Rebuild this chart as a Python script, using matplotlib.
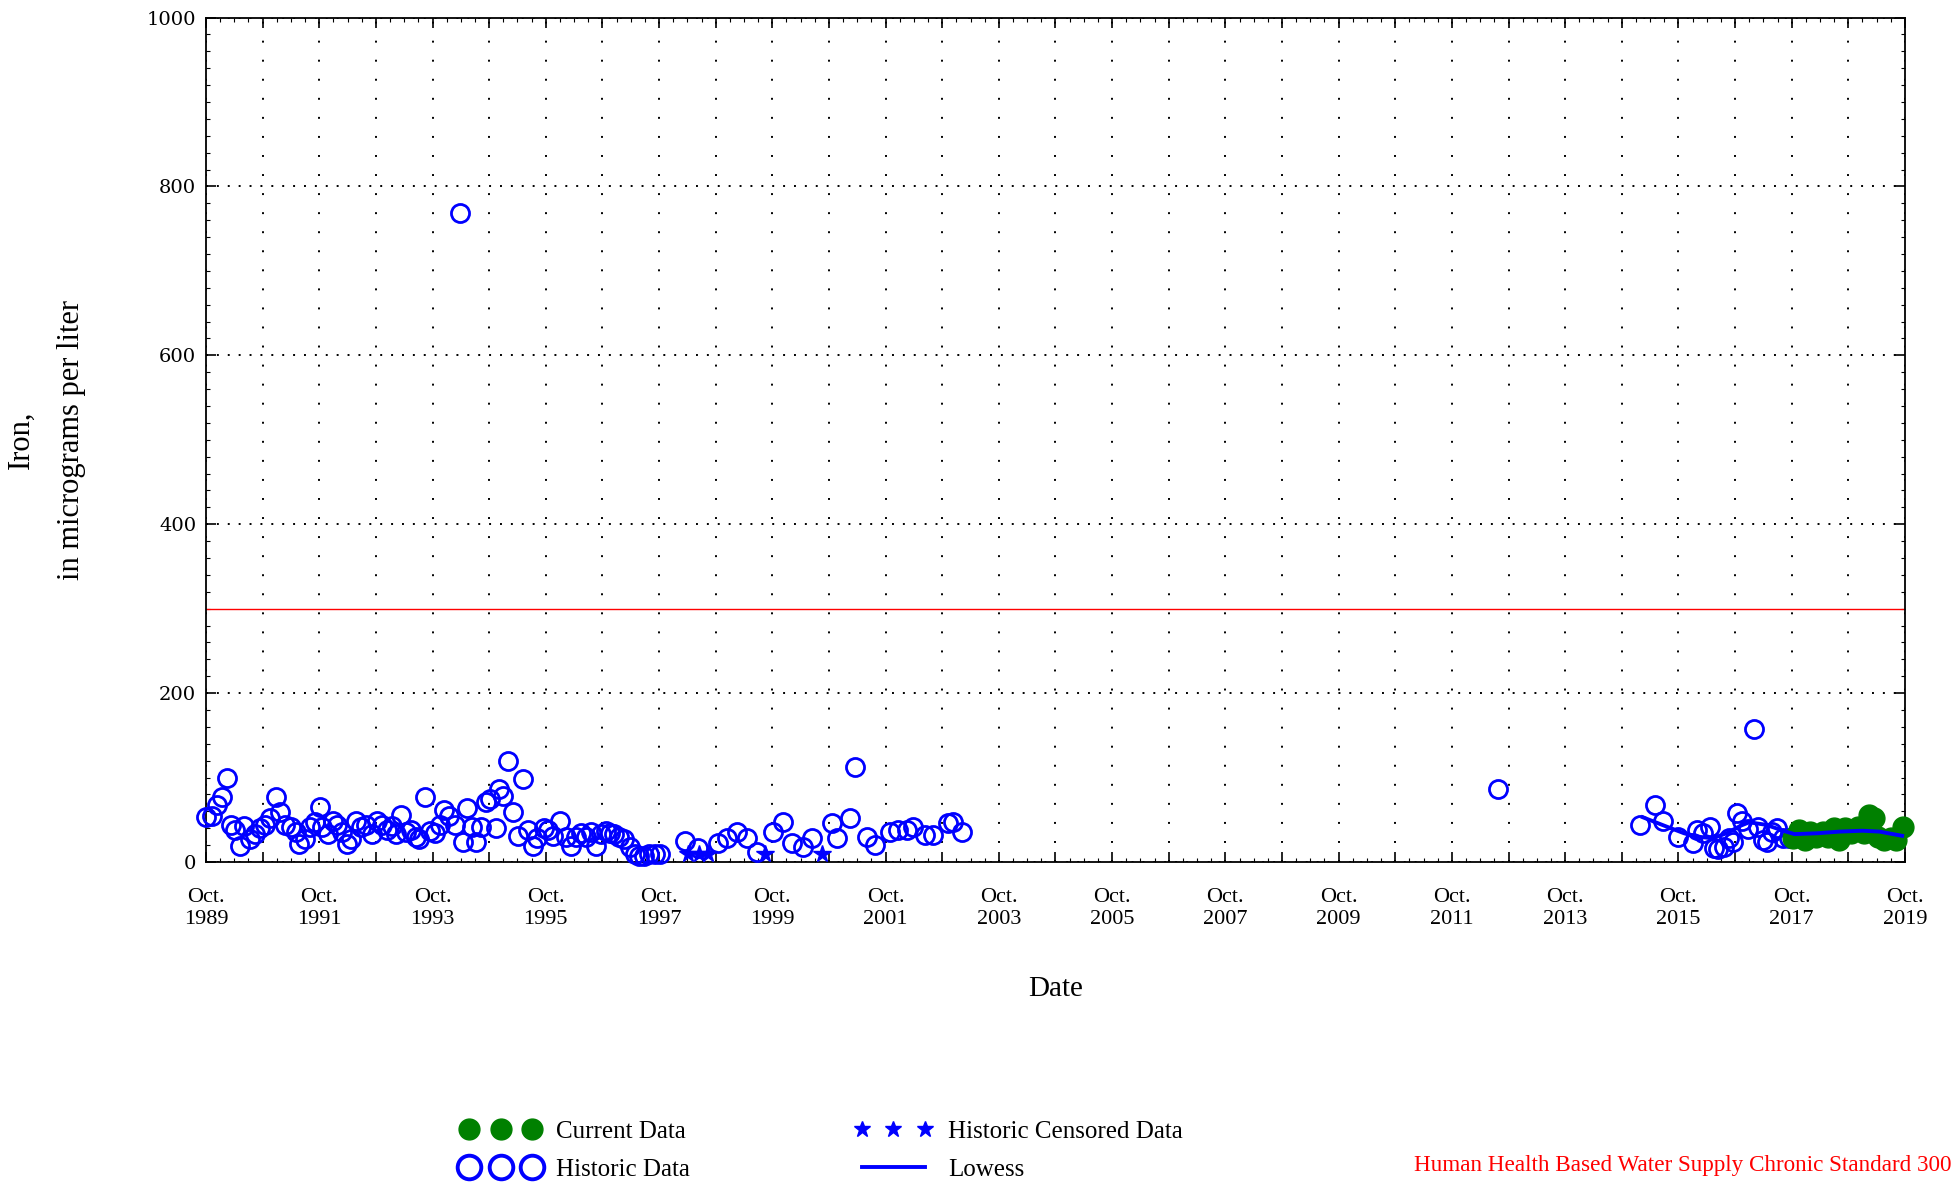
import numpy as np
import matplotlib
matplotlib.use("Agg")
import matplotlib.pyplot as plt
from matplotlib.lines import Line2D
from matplotlib.ticker import FixedLocator, MultipleLocator

plt.rcParams["font.family"] = ["Liberation Serif", "DejaVu Serif"]

# sample dates as decimal years, iron in micrograms per liter
historic_dates = [
    1989.75, 1989.86, 1989.95, 1990.04, 1990.12, 1990.19, 1990.26, 1990.35, 1990.43, 1990.52,
    1990.61, 1990.70, 1990.79, 1990.88, 1990.99, 1991.05, 1991.14, 1991.25, 1991.34, 1991.40,
    1991.49, 1991.58, 1991.67, 1991.76, 1991.80, 1991.91, 1992.00, 1992.07, 1992.15, 1992.24,
    1992.31, 1992.40, 1992.49, 1992.57, 1992.68, 1992.77, 1992.86, 1992.95, 1993.04, 1993.10,
    1993.19, 1993.28, 1993.37, 1993.46, 1993.52, 1993.61, 1993.70, 1993.79, 1993.88, 1993.96,
    1994.05, 1994.14, 1994.23, 1994.29, 1994.36, 1994.45, 1994.51, 1994.60, 1994.69, 1994.76,
    1994.87, 1994.93, 1995.00, 1995.09, 1995.18, 1995.26, 1995.35, 1995.44, 1995.53, 1995.60,
    1995.71, 1995.79, 1995.88, 1996.01, 1996.10, 1996.19, 1996.28, 1996.37, 1996.46, 1996.54,
    1996.63, 1996.72, 1996.81, 1996.88, 1996.96, 1997.05, 1997.14, 1997.23, 1997.32, 1997.40,
    1997.49, 1997.58, 1997.67, 1997.76, 1998.21, 1998.44, 1998.79, 1998.95, 1999.13, 1999.30,
    1999.48, 1999.76, 1999.94, 2000.10, 2000.29, 2000.45, 2000.80, 2000.89, 2001.12, 2001.21,
    2001.42, 2001.56, 2001.83, 2001.97, 2002.13, 2002.23, 2002.45, 2002.59, 2002.85, 2002.94,
    2003.10, 2012.56,
    2015.07, 2015.33, 2015.48, 2015.75, 2016.00, 2016.08, 2016.19, 2016.30, 2016.37, 2016.45,
    2016.55, 2016.64, 2016.72, 2016.79, 2016.87, 2016.97, 2017.08, 2017.16, 2017.24, 2017.32,
    2017.40, 2017.49, 2017.60, 2017.71,
]
historic_values = [
    53, 55, 67, 77, 99, 44, 38, 19, 43, 27,
    33, 40, 44, 52, 77, 59, 44, 41, 36, 21,
    27, 41, 47, 65, 41, 33, 49, 44, 36, 21,
    27, 49, 41, 44, 33, 49, 44, 38, 43, 33,
    56, 36, 38, 30, 27, 77, 37, 34, 44, 62,
    55, 44, 769, 24, 64, 41, 24, 41, 71, 74,
    40, 87, 78, 120, 59, 31, 98, 38, 19, 28,
    40, 38, 31, 49, 30, 19, 30, 34, 30, 36,
    19, 33, 37, 34, 33, 30, 27, 18, 9, 7,
    7, 9, 9, 9, 25, 17, 22, 28, 35, 28,
    12, 36, 47, 22, 18, 28, 46, 28, 52, 112,
    30, 20, 36, 38, 38, 42, 32, 32, 46, 47,
    36, 86,
    44, 68, 48, 30, 22, 38, 34, 42, 17, 15,
    18, 28, 24, 58, 48, 39, 158, 42, 26, 24,
    35, 40, 28, 28,
]

censored_dates = [1998.26, 1998.45, 1998.61, 1999.62, 2000.63]
censored_values = [10, 10, 10, 10, 10]

current_dates = [
    2017.78, 2017.88, 2017.98, 2018.08, 2018.18, 2018.30, 2018.40, 2018.50, 2018.58, 2018.70,
    2018.80, 2018.92, 2019.03, 2019.12, 2019.20, 2019.28, 2019.38, 2019.50, 2019.60, 2019.72,
]
current_values = [
    28, 38, 26, 36, 30, 36, 30, 40, 26, 40,
    34, 42, 34, 56, 52, 30, 26, 28, 26, 42,
]

lowess_dates = [2015.12, 2015.50, 2015.85, 2016.10, 2016.35, 2016.60, 2016.85, 2017.00,
                2017.30, 2017.60, 2017.80, 2018.20, 2018.60, 2019.00, 2019.30, 2019.70]
lowess_values = [53, 43, 34, 30, 28, 34, 43, 47, 44, 37, 33, 34, 36, 37, 36, 31]

standard_value = 300
standard_label = "Human Health Based Water Supply Chronic Standard 300"

year_ticks = np.arange(1989.75, 2019.76, 1.0)
tick_labels = [f"Oct.\n{int(y)}" if i % 2 == 0 else "" for i, y in enumerate(year_ticks)]

BLUE = "#0000ff"
GREEN = "#008000"

fig = plt.figure(figsize=(19.58, 11.86), dpi=100)
ax = fig.add_axes([0.1052, 0.2732, 0.8677, 0.712])

ax.axhline(standard_value, color="#ff0000", lw=1.0, zorder=2)
ax.plot(historic_dates, historic_values, "o", ms=13, mfc="none", mec=BLUE, mew=2.0,
        clip_on=False, zorder=3)
ax.plot(censored_dates, censored_values, "*", ms=13, color=BLUE, clip_on=False, zorder=3)
ax.plot(current_dates, current_values, "o", ms=15, color=GREEN, mec=GREEN,
        clip_on=False, zorder=3)
ax.plot(lowess_dates, lowess_values, "-", color=BLUE, lw=2.8, zorder=4)

ax.set_xlim(1989.75, 2019.75)
ax.set_ylim(0, 1000)
ax.xaxis.set_major_locator(FixedLocator(year_ticks))
ax.set_xticklabels(tick_labels)
ax.xaxis.set_minor_locator(MultipleLocator(0.25))
ax.yaxis.set_major_locator(MultipleLocator(200))
ax.yaxis.set_minor_locator(MultipleLocator(20))

ax.tick_params(which="both", direction="in", top=True, right=True)
ax.tick_params(which="major", length=7, width=1.2)
ax.tick_params(which="minor", length=3, width=0.8)
ax.tick_params(axis="x", which="major", labelsize=16, pad=19)
ax.tick_params(axis="y", which="major", labelsize=14, pad=7)
for lab in ax.get_yticklabels():
    lab.set_fontfamily("DejaVu Serif")

# dotted grid: every year vertically, every 200 horizontally
ax.grid(True, axis="x", which="major", color="black", lw=1.4, linestyle=(0, (1, 8.8)))
ax.grid(True, axis="y", which="major", color="black", lw=1.4, linestyle=(0, (1, 4.6)))
for s in ax.spines.values():
    s.set_linewidth(1.3)

ax.set_xlabel("Date", fontsize=21, labelpad=34)
ax.set_ylabel("Iron,\nin micrograms per liter", fontsize=22, labelpad=44, linespacing=1.95)

handles = [
    Line2D([], [], ls="none", marker="o", ms=15, color=GREEN),
    Line2D([], [], ls="none", marker="o", ms=17, mfc="none", mec=BLUE, mew=2.8),
    Line2D([], [], ls="none", marker="*", ms=12, color=BLUE),
    Line2D([], [], ls="-", lw=2.8, color=BLUE),
]
labels = ["Current Data", "Historic Data", "Historic Censored Data", "Lowess"]
fig.legend(handles, labels, ncol=2, numpoints=3, frameon=False, fontsize=18,
           loc="upper left", bbox_to_anchor=(462 / 1958, 1 - 1120 / 1186),
           borderpad=0, borderaxespad=0, handlelength=3.1, handletextpad=0.65,
           labelspacing=0.62, columnspacing=6.6)

fig.text(1952 / 1958, 1 - 1165 / 1186, standard_label, color="#ff0000", fontsize=16.7,
         ha="right", va="center")

fig.savefig("out.png", dpi=100)
